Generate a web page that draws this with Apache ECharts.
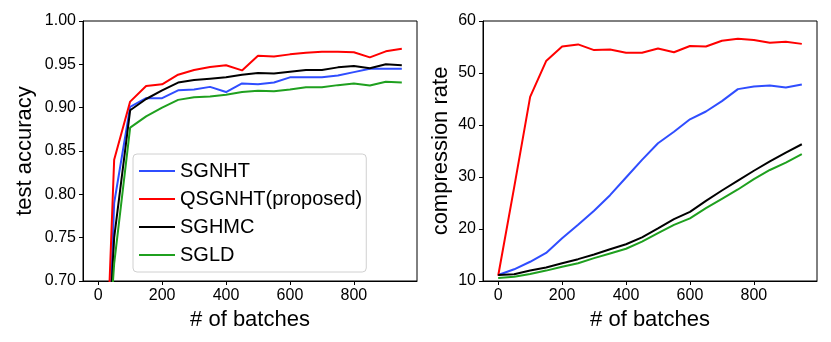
<!DOCTYPE html>
<html>
<head>
<meta charset="utf-8">
<script src="https://cdn.jsdelivr.net/npm/echarts@6/dist/echarts.min.js"></script>
<style>
html,body{margin:0;padding:0;background:#fff;}
#c{width:831px;height:342px;}
</style>
</head>
<body>
<div id="c"></div>
<script>
const batches = [0,50,100,150,200,250,300,350,400,450,500,550,600,650,700,750,800,850,900,950];
const xTicks = [0,200,400,600,800];
const names = ['SGNHT','QSGNHT(proposed)','SGHMC','SGLD'];

const accSGNHT  = [0.30,0.79,0.901,0.911,0.911,0.920,0.921,0.924,0.918,0.928,0.927,0.929,0.935,0.935,0.935,0.937,0.941,0.945,0.945,0.945];
const accQSGNHT = [0.35,0.84,0.907,0.925,0.927,0.938,0.9435,0.947,0.949,0.943,0.960,0.959,0.9615,0.9635,0.9645,0.9645,0.964,0.958,0.965,0.968];
const accSGHMC  = [0.40,0.75,0.897,0.910,0.920,0.929,0.932,0.9335,0.935,0.938,0.940,0.9395,0.9415,0.9435,0.9435,0.9465,0.948,0.9455,0.950,0.949];
const accSGLD   = [0.45,0.72,0.877,0.890,0.900,0.909,0.912,0.913,0.915,0.918,0.9195,0.919,0.921,0.9235,0.9235,0.926,0.928,0.9255,0.930,0.929];

const crSGNHT  = [11.15,12.25,13.7,15.4,18.2,20.8,23.5,26.5,29.9,33.3,36.5,38.7,41.1,42.6,44.6,46.9,47.4,47.6,47.2,47.8];
const crQSGNHT = [11.0,28.0,45.4,52.3,55.1,55.5,54.4,54.5,53.9,53.9,54.7,54.0,55.2,55.1,56.2,56.6,56.35,55.8,56.0,55.6];
const crSGHMC  = [11.15,11.3,12.0,12.6,13.4,14.2,15.1,16.1,17.06,18.4,20.1,21.9,23.3,25.4,27.4,29.3,31.2,33.0,34.7,36.3];
const crSGLD   = [10.6,10.8,11.35,12.0,12.75,13.4,14.4,15.3,16.2,17.56,19.2,20.8,22.05,24.0,25.8,27.6,29.6,31.35,32.75,34.4];

const colors = ['#2f4dff','#ff0000','#000000','#1fa01f'];
const FONT = 'Liberation Sans, Arial, sans-serif';

function pairs(ys){ return batches.map((x,i)=>[x,ys[i]]); }

function xAxis(idx){
  return {
    gridIndex: idx, type:'value', min:-47.5, max:997.5,
    name:'# of batches', nameLocation:'middle', nameGap:28,
    nameTextStyle:{fontFamily:FONT,fontSize:22,color:'#000'},
    axisLine:{show:true,onZero:false,lineStyle:{color:'#000',width:1}},
    axisTick:{show:true,inside:false,length:4,customValues:xTicks,lineStyle:{color:'#000'}},
    axisLabel:{show:true,margin:7,customValues:xTicks,fontFamily:FONT,fontSize:16,color:'#000'},
    splitLine:{show:false}
  };
}
function yAxis(idx,min,max,interval,name,gap,fmt){
  return {
    gridIndex: idx, type:'value', min:min, max:max, interval:interval,
    name:name, nameLocation:'middle', nameGap:gap, nameRotate:90,
    nameTextStyle:{fontFamily:FONT,fontSize:22,color:'#000'},
    axisLine:{show:true,onZero:false,lineStyle:{color:'#000',width:1}},
    axisTick:{show:true,inside:false,length:4,lineStyle:{color:'#000'}},
    axisLabel:{show:true,margin:7,fontFamily:FONT,fontSize:16,color:'#000',formatter:fmt},
    splitLine:{show:false}
  };
}
function line(name,data,color,xi){
  return {
    type:'line', name:name, xAxisIndex:xi, yAxisIndex:xi, data:pairs(data),
    symbol:'none', showSymbol:false, clip:true, animation:false,
    lineStyle:{color:color,width:2}, itemStyle:{color:color}
  };
}

const chart = echarts.init(document.getElementById('c'), null, {renderer:'canvas'});
chart.setOption({
  animation:false,
  backgroundColor:'#fff',
  grid:[
    {left:83, top:21, width:334, height:260, show:true, borderColor:'#000', borderWidth:1, backgroundColor:'transparent'},
    {left:483, top:21, width:334, height:260, show:true, borderColor:'#000', borderWidth:1, backgroundColor:'transparent'}
  ],
  xAxis:[xAxis(0), xAxis(1)],
  yAxis:[
    yAxis(0,0.7,1.0,0.05,'test accuracy',47,v=>v.toFixed(2)),
    yAxis(1,10,60,10,'compression rate',31,v=>String(Math.round(v)))
  ],
  legend:{
    data:names, orient:'vertical', left:133, top:154,
    itemWidth:36, itemHeight:14, itemGap:8,
    icon:'path://M0,0H36V2H0Z',
    padding:[7,4,7,6],
    backgroundColor:'rgba(255,255,255,0.85)', borderColor:'#d0d0d0', borderWidth:1, borderRadius:4,
    textStyle:{fontFamily:FONT,fontSize:20,color:'#000',lineHeight:20},
    selectedMode:false
  },
  series:[
    line(names[0],accSGNHT,colors[0],0),
    line(names[1],accQSGNHT,colors[1],0),
    line(names[2],accSGHMC,colors[2],0),
    line(names[3],accSGLD,colors[3],0),
    line(names[0],crSGNHT,colors[0],1),
    line(names[1],crQSGNHT,colors[1],1),
    line(names[2],crSGHMC,colors[2],1),
    line(names[3],crSGLD,colors[3],1)
  ]
});
</script>
</body>
</html>
